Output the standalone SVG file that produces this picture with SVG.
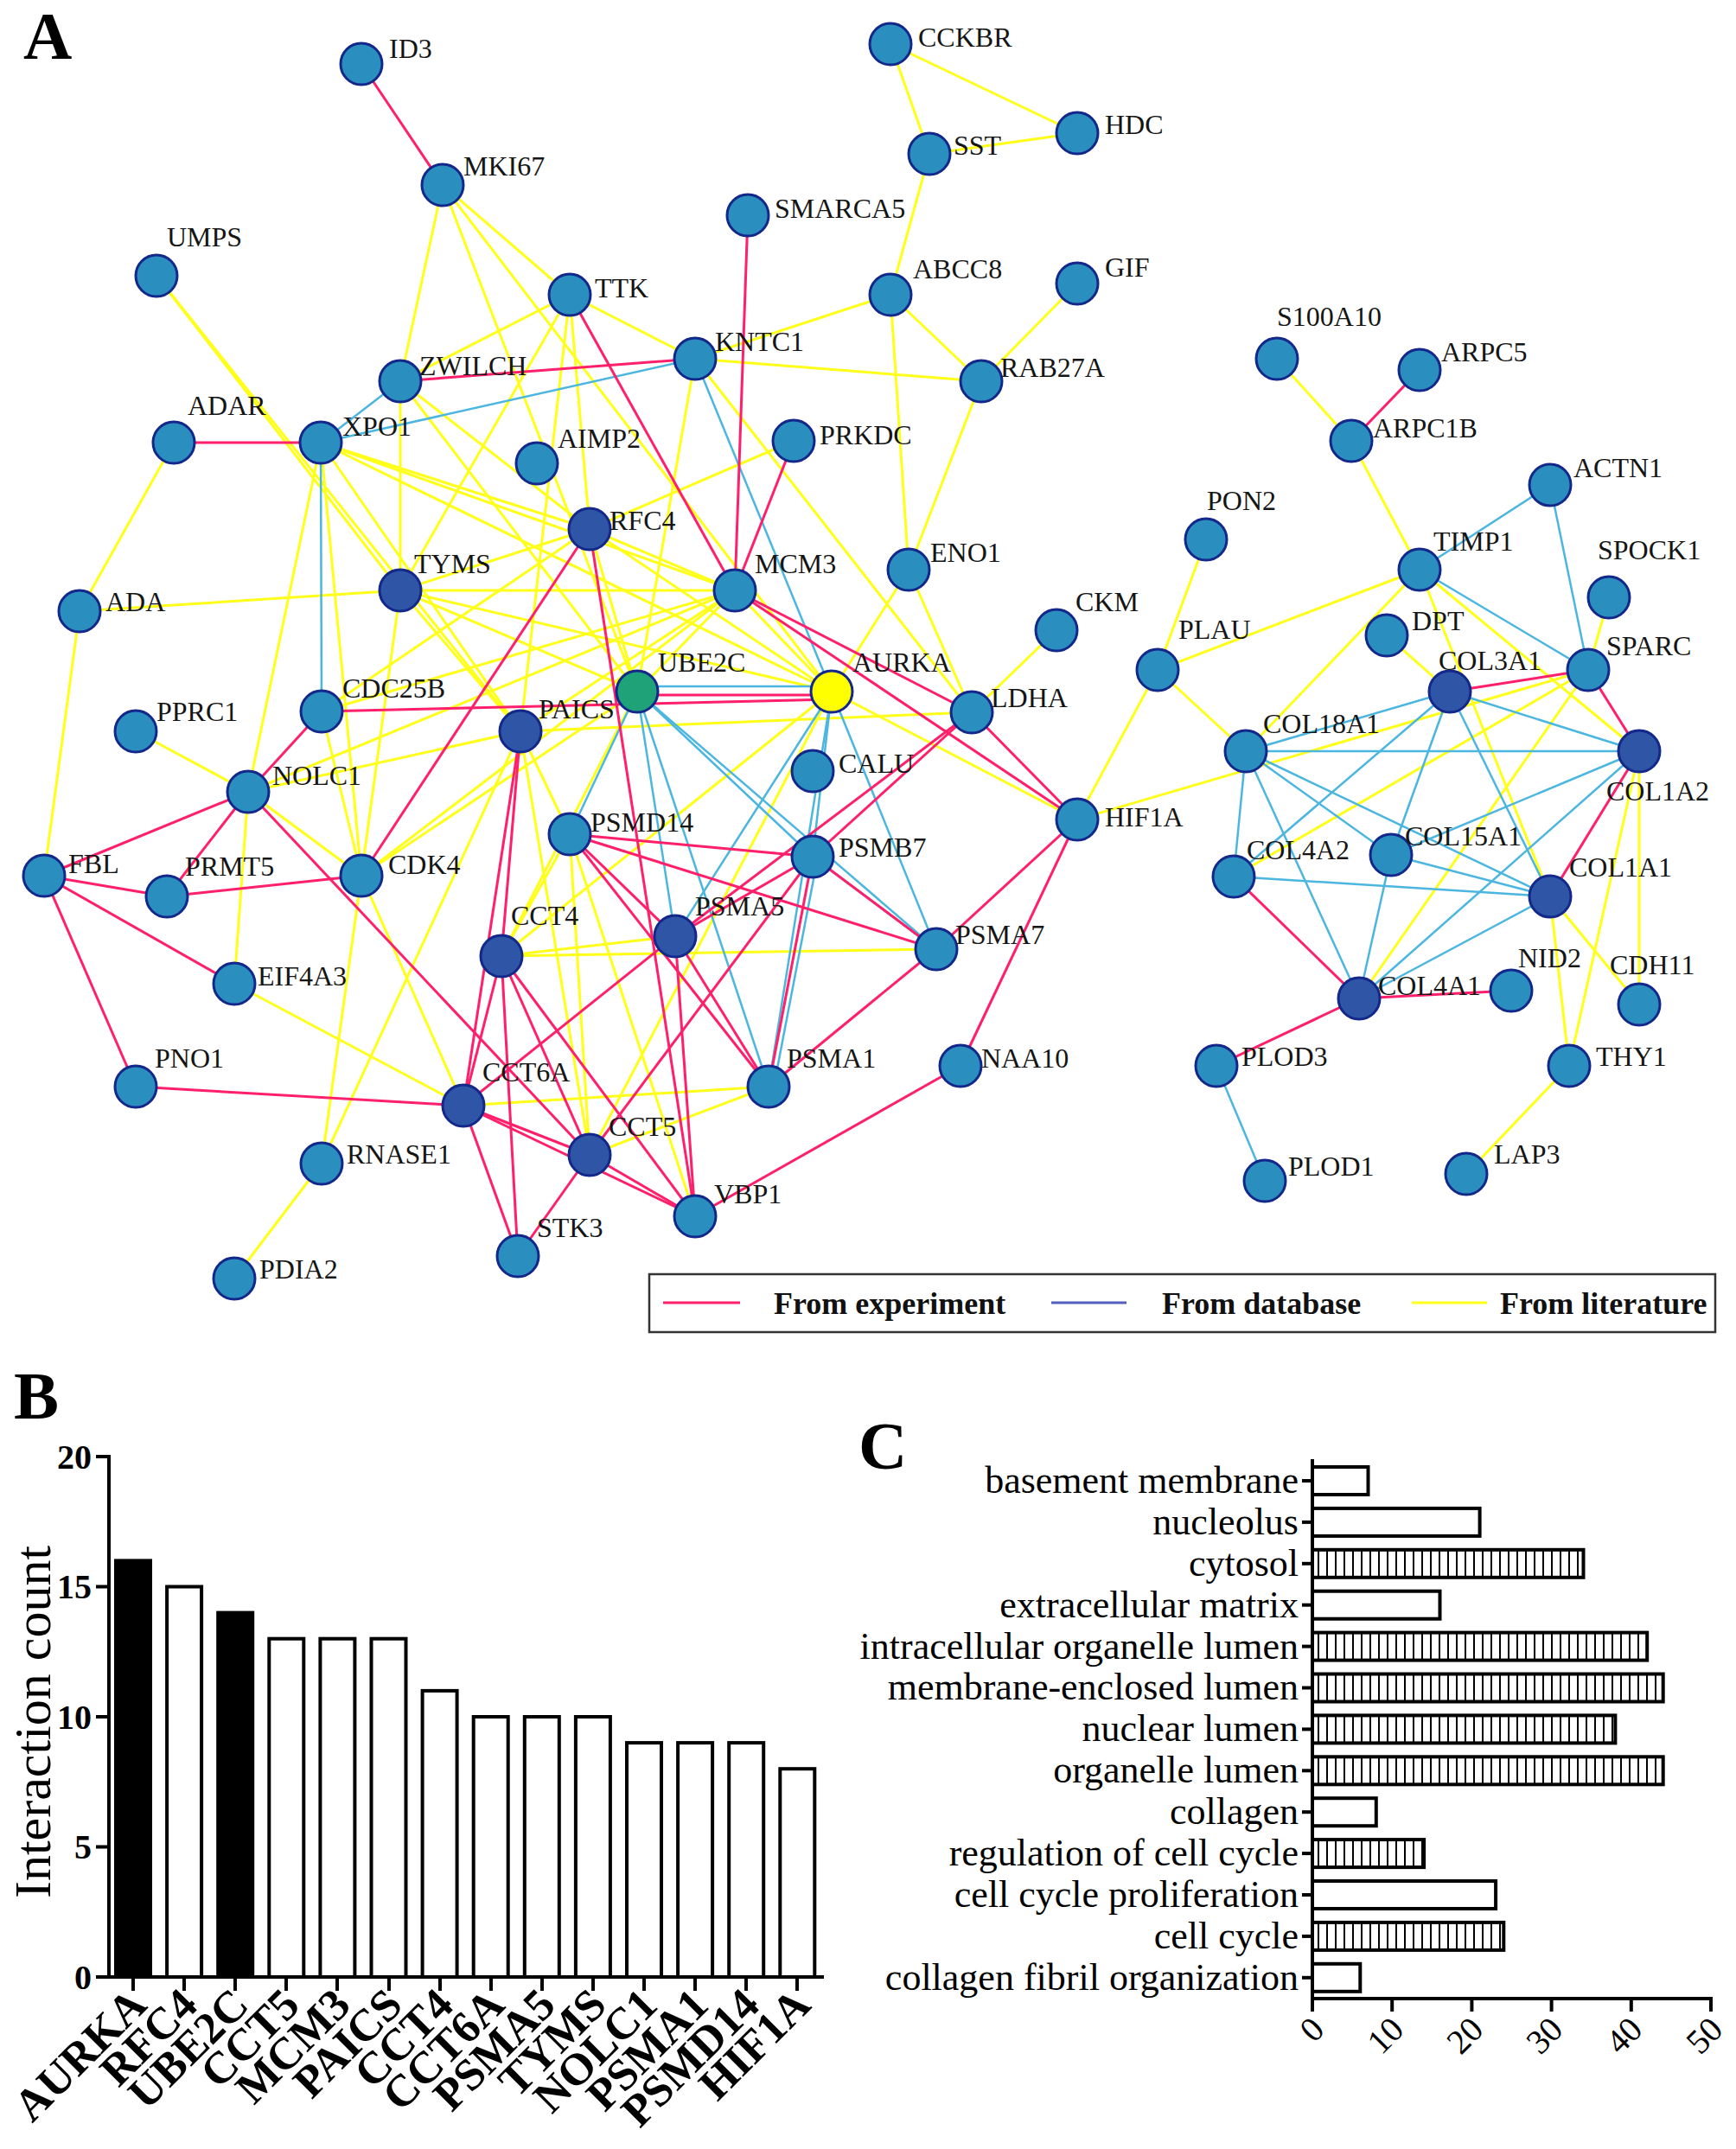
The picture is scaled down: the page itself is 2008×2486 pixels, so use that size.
<svg xmlns="http://www.w3.org/2000/svg" width="2008" height="2486" viewBox="0 0 2008 2486">
<style>
.ey{stroke:#FFFF1A;stroke-width:3;fill:none}
.ec{stroke:#4BB6DF;stroke-width:2.5;fill:none}
.ep{stroke:#FF1F6A;stroke-width:3;fill:none}
.n{fill:#2A8FBF;stroke:#13288A;stroke-width:3}
.nd{fill:#2F55A6;stroke:#13288A;stroke-width:3}
.lbl{font-family:"Liberation Serif",serif;font-size:32px;fill:#151515}
.big{font-family:"Liberation Serif",serif;font-size:78px;font-weight:bold;fill:#000}
.leg{font-family:"Liberation Serif",serif;font-size:36px;font-weight:bold;fill:#111}
.ax{stroke:#000;stroke-width:4;fill:none}
.bar{stroke:#000;stroke-width:4}
.tb{font-family:"Liberation Serif",serif;font-size:40px;font-weight:bold;fill:#000}
.xb{font-family:"Liberation Serif",serif;font-size:52px;font-weight:bold;fill:#000}
.cl{font-family:"Liberation Serif",serif;font-size:44px;fill:#000}
.ct{font-family:"Liberation Serif",serif;font-size:40px;fill:#000}
</style>
<defs>
<pattern id="hatch" patternUnits="userSpaceOnUse" width="10" height="10">
<rect width="10" height="10" fill="#fff"/>
<line x1="5" y1="0" x2="5" y2="10" stroke="#000" stroke-width="2"/>
</pattern>
</defs>
<rect width="2008" height="2486" fill="#fff"/>
<text class="big" x="27" y="68">A</text>

<g id="connectors">
<g id="literature">
<line class="ey" x1="1030" y1="51" x2="1075" y2="178"/>
<line class="ey" x1="1030" y1="51" x2="1246" y2="154"/>
<line class="ey" x1="1075" y1="178" x2="1246" y2="154"/>
<line class="ey" x1="1075" y1="178" x2="1030" y2="341"/>
<line class="ey" x1="1030" y1="341" x2="804" y2="415"/>
<line class="ey" x1="1030" y1="341" x2="1135" y2="441"/>
<line class="ey" x1="1030" y1="341" x2="1051" y2="659"/>
<line class="ey" x1="1246" y1="328" x2="1135" y2="441"/>
<line class="ey" x1="1135" y1="441" x2="804" y2="415"/>
<line class="ey" x1="1135" y1="441" x2="1051" y2="659"/>
<line class="ey" x1="659" y1="341" x2="804" y2="415"/>
<line class="ey" x1="804" y1="415" x2="1124" y2="824"/>
<line class="ey" x1="804" y1="415" x2="737" y2="800"/>
<line class="ey" x1="1051" y1="659" x2="962" y2="800"/>
<line class="ey" x1="1051" y1="659" x2="1124" y2="824"/>
<line class="ey" x1="1222" y1="729" x2="1124" y2="824"/>
<line class="ey" x1="512" y1="214" x2="463" y2="441"/>
<line class="ey" x1="512" y1="214" x2="659" y2="341"/>
<line class="ey" x1="512" y1="214" x2="737" y2="800"/>
<line class="ey" x1="512" y1="214" x2="962" y2="800"/>
<line class="ey" x1="181" y1="319" x2="463" y2="683"/>
<line class="ey" x1="181" y1="319" x2="602" y2="846"/>
<line class="ey" x1="659" y1="341" x2="463" y2="441"/>
<line class="ey" x1="659" y1="341" x2="463" y2="683"/>
<line class="ey" x1="659" y1="341" x2="682" y2="612"/>
<line class="ey" x1="659" y1="341" x2="602" y2="846"/>
<line class="ey" x1="463" y1="441" x2="682" y2="612"/>
<line class="ey" x1="463" y1="441" x2="463" y2="683"/>
<line class="ey" x1="463" y1="441" x2="737" y2="800"/>
<line class="ey" x1="371" y1="512" x2="682" y2="612"/>
<line class="ey" x1="371" y1="512" x2="850" y2="683"/>
<line class="ey" x1="371" y1="512" x2="962" y2="800"/>
<line class="ey" x1="371" y1="512" x2="602" y2="846"/>
<line class="ey" x1="371" y1="512" x2="287" y2="916"/>
<line class="ey" x1="371" y1="512" x2="418" y2="1013"/>
<line class="ey" x1="201" y1="512" x2="92" y2="707"/>
<line class="ey" x1="92" y1="707" x2="51" y2="1013"/>
<line class="ey" x1="92" y1="707" x2="463" y2="683"/>
<line class="ey" x1="463" y1="683" x2="682" y2="612"/>
<line class="ey" x1="463" y1="683" x2="850" y2="683"/>
<line class="ey" x1="463" y1="683" x2="737" y2="800"/>
<line class="ey" x1="463" y1="683" x2="962" y2="800"/>
<line class="ey" x1="463" y1="683" x2="602" y2="846"/>
<line class="ey" x1="463" y1="683" x2="418" y2="1013"/>
<line class="ey" x1="682" y1="612" x2="918" y2="510"/>
<line class="ey" x1="682" y1="612" x2="850" y2="683"/>
<line class="ey" x1="682" y1="612" x2="962" y2="800"/>
<line class="ey" x1="682" y1="612" x2="737" y2="800"/>
<line class="ey" x1="850" y1="683" x2="962" y2="800"/>
<line class="ey" x1="850" y1="683" x2="737" y2="800"/>
<line class="ey" x1="850" y1="683" x2="602" y2="846"/>
<line class="ey" x1="850" y1="683" x2="372" y2="823"/>
<line class="ey" x1="850" y1="683" x2="418" y2="1013"/>
<line class="ey" x1="850" y1="683" x2="287" y2="916"/>
<line class="ey" x1="602" y1="846" x2="1124" y2="824"/>
<line class="ey" x1="602" y1="846" x2="659" y2="965"/>
<line class="ey" x1="602" y1="846" x2="682" y2="1336"/>
<line class="ey" x1="602" y1="846" x2="287" y2="916"/>
<line class="ey" x1="602" y1="846" x2="372" y2="1346"/>
<line class="ey" x1="962" y1="800" x2="1246" y2="948"/>
<line class="ey" x1="962" y1="800" x2="580" y2="1106"/>
<line class="ey" x1="962" y1="800" x2="682" y2="1336"/>
<line class="ey" x1="372" y1="823" x2="418" y2="1013"/>
<line class="ey" x1="372" y1="823" x2="682" y2="612"/>
<line class="ey" x1="287" y1="916" x2="157" y2="846"/>
<line class="ey" x1="287" y1="916" x2="271" y2="1138"/>
<line class="ey" x1="287" y1="916" x2="418" y2="1013"/>
<line class="ey" x1="418" y1="1013" x2="372" y2="1346"/>
<line class="ey" x1="418" y1="1013" x2="536" y2="1279"/>
<line class="ey" x1="418" y1="1013" x2="737" y2="800"/>
<line class="ey" x1="271" y1="1138" x2="536" y2="1279"/>
<line class="ey" x1="372" y1="1346" x2="271" y2="1479"/>
<line class="ey" x1="580" y1="1106" x2="781" y2="1083"/>
<line class="ey" x1="580" y1="1106" x2="1083" y2="1098"/>
<line class="ey" x1="580" y1="1106" x2="737" y2="800"/>
<line class="ey" x1="536" y1="1279" x2="889" y2="1257"/>
<line class="ey" x1="682" y1="1336" x2="889" y2="1257"/>
<line class="ey" x1="659" y1="965" x2="682" y2="1336"/>
<line class="ey" x1="659" y1="965" x2="580" y2="1106"/>
<line class="ey" x1="659" y1="965" x2="804" y2="1407"/>
<line class="ey" x1="1246" y1="948" x2="1339" y2="775"/>
<line class="ey" x1="1246" y1="948" x2="1837" y2="775"/>
<line class="ey" x1="1477" y1="415" x2="1563" y2="510"/>
<line class="ey" x1="1563" y1="510" x2="1642" y2="659"/>
<line class="ey" x1="1395" y1="624" x2="1339" y2="775"/>
<line class="ey" x1="1861" y1="691" x2="1837" y2="775"/>
<line class="ey" x1="1642" y1="659" x2="1339" y2="775"/>
<line class="ey" x1="1642" y1="659" x2="1441" y2="869"/>
<line class="ey" x1="1642" y1="659" x2="1896" y2="869"/>
<line class="ey" x1="1642" y1="659" x2="1793" y2="1037"/>
<line class="ey" x1="1604" y1="735" x2="1677" y2="800"/>
<line class="ey" x1="1339" y1="775" x2="1441" y2="869"/>
<line class="ey" x1="1837" y1="775" x2="1427" y2="1014"/>
<line class="ey" x1="1837" y1="775" x2="1572" y2="1155"/>
<line class="ey" x1="1896" y1="869" x2="1815" y2="1233"/>
<line class="ey" x1="1896" y1="869" x2="1896" y2="1162"/>
<line class="ey" x1="1793" y1="1037" x2="1815" y2="1233"/>
<line class="ey" x1="1793" y1="1037" x2="1896" y2="1162"/>
<line class="ey" x1="1815" y1="1233" x2="1696" y2="1358"/>
</g>
<g id="database">
<line class="ec" x1="463" y1="441" x2="371" y2="512"/>
<line class="ec" x1="804" y1="415" x2="371" y2="512"/>
<line class="ec" x1="371" y1="512" x2="372" y2="823"/>
<line class="ec" x1="804" y1="415" x2="962" y2="800"/>
<line class="ec" x1="737" y1="794" x2="962" y2="794"/>
<line class="ec" x1="737" y1="800" x2="659" y2="965"/>
<line class="ec" x1="737" y1="800" x2="781" y2="1083"/>
<line class="ec" x1="737" y1="800" x2="889" y2="1257"/>
<line class="ec" x1="737" y1="800" x2="940" y2="991"/>
<line class="ec" x1="737" y1="800" x2="1083" y2="1098"/>
<line class="ec" x1="962" y1="800" x2="781" y2="1083"/>
<line class="ec" x1="962" y1="800" x2="889" y2="1257"/>
<line class="ec" x1="962" y1="800" x2="940" y2="991"/>
<line class="ec" x1="962" y1="800" x2="1083" y2="1098"/>
<line class="ec" x1="940" y1="991" x2="1083" y2="1098"/>
<line class="ec" x1="946" y1="991" x2="895" y2="1257"/>
<line class="ec" x1="1793" y1="561" x2="1642" y2="659"/>
<line class="ec" x1="1793" y1="561" x2="1837" y2="775"/>
<line class="ec" x1="1642" y1="659" x2="1837" y2="775"/>
<line class="ec" x1="1677" y1="800" x2="1441" y2="869"/>
<line class="ec" x1="1677" y1="800" x2="1896" y2="869"/>
<line class="ec" x1="1677" y1="800" x2="1609" y2="989"/>
<line class="ec" x1="1677" y1="800" x2="1427" y2="1014"/>
<line class="ec" x1="1677" y1="800" x2="1793" y2="1037"/>
<line class="ec" x1="1441" y1="869" x2="1896" y2="869"/>
<line class="ec" x1="1441" y1="869" x2="1609" y2="989"/>
<line class="ec" x1="1441" y1="869" x2="1427" y2="1014"/>
<line class="ec" x1="1441" y1="869" x2="1572" y2="1155"/>
<line class="ec" x1="1441" y1="869" x2="1793" y2="1037"/>
<line class="ec" x1="1896" y1="869" x2="1609" y2="989"/>
<line class="ec" x1="1896" y1="869" x2="1572" y2="1155"/>
<line class="ec" x1="1609" y1="989" x2="1572" y2="1155"/>
<line class="ec" x1="1609" y1="989" x2="1793" y2="1037"/>
<line class="ec" x1="1427" y1="1014" x2="1793" y2="1037"/>
<line class="ec" x1="1793" y1="1037" x2="1572" y2="1155"/>
<line class="ec" x1="1407" y1="1233" x2="1463" y2="1366"/>
</g>
<g id="experiment">
<line class="ep" x1="418" y1="74" x2="512" y2="214"/>
<line class="ep" x1="865" y1="249" x2="850" y2="683"/>
<line class="ep" x1="659" y1="341" x2="850" y2="683"/>
<line class="ep" x1="804" y1="415" x2="463" y2="441"/>
<line class="ep" x1="201" y1="512" x2="371" y2="512"/>
<line class="ep" x1="918" y1="510" x2="850" y2="683"/>
<line class="ep" x1="850" y1="683" x2="1246" y2="948"/>
<line class="ep" x1="850" y1="683" x2="1124" y2="824"/>
<line class="ep" x1="737" y1="804" x2="962" y2="804"/>
<line class="ep" x1="372" y1="823" x2="962" y2="809"/>
<line class="ep" x1="372" y1="823" x2="287" y2="916"/>
<line class="ep" x1="287" y1="916" x2="51" y2="1013"/>
<line class="ep" x1="287" y1="916" x2="193" y2="1037"/>
<line class="ep" x1="287" y1="916" x2="682" y2="1336"/>
<line class="ep" x1="51" y1="1013" x2="193" y2="1037"/>
<line class="ep" x1="51" y1="1013" x2="271" y2="1138"/>
<line class="ep" x1="51" y1="1013" x2="157" y2="1257"/>
<line class="ep" x1="193" y1="1037" x2="418" y2="1013"/>
<line class="ep" x1="682" y1="612" x2="418" y2="1013"/>
<line class="ep" x1="682" y1="612" x2="804" y2="1407"/>
<line class="ep" x1="602" y1="846" x2="580" y2="1106"/>
<line class="ep" x1="602" y1="846" x2="536" y2="1279"/>
<line class="ep" x1="1124" y1="824" x2="1246" y2="948"/>
<line class="ep" x1="1124" y1="824" x2="940" y2="991"/>
<line class="ep" x1="1124" y1="824" x2="781" y2="1083"/>
<line class="ep" x1="781" y1="1083" x2="536" y2="1279"/>
<line class="ep" x1="659" y1="965" x2="940" y2="991"/>
<line class="ep" x1="659" y1="965" x2="781" y2="1083"/>
<line class="ep" x1="659" y1="965" x2="889" y2="1257"/>
<line class="ep" x1="659" y1="965" x2="1083" y2="1098"/>
<line class="ep" x1="940" y1="991" x2="781" y2="1083"/>
<line class="ep" x1="940" y1="991" x2="889" y2="1257"/>
<line class="ep" x1="940" y1="991" x2="1083" y2="1098"/>
<line class="ep" x1="940" y1="991" x2="682" y2="1336"/>
<line class="ep" x1="781" y1="1083" x2="889" y2="1257"/>
<line class="ep" x1="781" y1="1083" x2="804" y2="1407"/>
<line class="ep" x1="1083" y1="1098" x2="889" y2="1257"/>
<line class="ep" x1="1083" y1="1098" x2="1246" y2="948"/>
<line class="ep" x1="1111" y1="1233" x2="1246" y2="948"/>
<line class="ep" x1="1111" y1="1233" x2="804" y2="1407"/>
<line class="ep" x1="580" y1="1106" x2="536" y2="1279"/>
<line class="ep" x1="580" y1="1106" x2="682" y2="1336"/>
<line class="ep" x1="580" y1="1106" x2="599" y2="1453"/>
<line class="ep" x1="580" y1="1106" x2="804" y2="1407"/>
<line class="ep" x1="536" y1="1279" x2="682" y2="1336"/>
<line class="ep" x1="536" y1="1279" x2="804" y2="1407"/>
<line class="ep" x1="536" y1="1279" x2="599" y2="1453"/>
<line class="ep" x1="536" y1="1279" x2="157" y2="1257"/>
<line class="ep" x1="682" y1="1336" x2="599" y2="1453"/>
<line class="ep" x1="682" y1="1336" x2="804" y2="1407"/>
<line class="ep" x1="1642" y1="428" x2="1563" y2="510"/>
<line class="ep" x1="1677" y1="800" x2="1837" y2="775"/>
<line class="ep" x1="1837" y1="775" x2="1896" y2="869"/>
<line class="ep" x1="1896" y1="869" x2="1793" y2="1037"/>
<line class="ep" x1="1427" y1="1014" x2="1572" y2="1155"/>
<line class="ep" x1="1572" y1="1155" x2="1748" y2="1146"/>
<line class="ep" x1="1572" y1="1155" x2="1407" y2="1233"/>
</g>
</g>

<g id="nodes">
<g id="node-ID3"><circle class="n" cx="418" cy="74" r="24"/><text class="lbl" x="450" y="67">ID3</text></g>
<g id="node-MKI67"><circle class="n" cx="512" cy="214" r="24"/><text class="lbl" x="536" y="203">MKI67</text></g>
<g id="node-UMPS"><circle class="n" cx="181" cy="319" r="24"/><text class="lbl" x="193" y="285">UMPS</text></g>
<g id="node-TTK"><circle class="n" cx="659" cy="341" r="24"/><text class="lbl" x="688" y="344">TTK</text></g>
<g id="node-SMARCA5"><circle class="n" cx="865" cy="249" r="24"/><text class="lbl" x="896" y="252">SMARCA5</text></g>
<g id="node-CCKBR"><circle class="n" cx="1030" cy="51" r="24"/><text class="lbl" x="1062" y="54">CCKBR</text></g>
<g id="node-SST"><circle class="n" cx="1075" cy="178" r="24"/><text class="lbl" x="1103" y="179">SST</text></g>
<g id="node-HDC"><circle class="n" cx="1246" cy="154" r="24"/><text class="lbl" x="1278" y="155">HDC</text></g>
<g id="node-ABCC8"><circle class="n" cx="1030" cy="341" r="24"/><text class="lbl" x="1056" y="322">ABCC8</text></g>
<g id="node-GIF"><circle class="n" cx="1246" cy="328" r="24"/><text class="lbl" x="1278" y="320">GIF</text></g>
<g id="node-KNTC1"><circle class="n" cx="804" cy="415" r="24"/><text class="lbl" x="827" y="406">KNTC1</text></g>
<g id="node-RAB27A"><circle class="n" cx="1135" cy="441" r="24"/><text class="lbl" x="1157" y="436">RAB27A</text></g>
<g id="node-ZWILCH"><circle class="n" cx="463" cy="441" r="24"/><text class="lbl" x="485" y="434">ZWILCH</text></g>
<g id="node-XPO1"><circle class="n" cx="371" cy="512" r="24"/><text class="lbl" x="396" y="504">XPO1</text></g>
<g id="node-ADAR"><circle class="n" cx="201" cy="512" r="24"/><text class="lbl" x="217" y="480">ADAR</text></g>
<g id="node-AIMP2"><circle class="n" cx="621" cy="536" r="24"/><text class="lbl" x="645" y="518">AIMP2</text></g>
<g id="node-PRKDC"><circle class="n" cx="918" cy="510" r="24"/><text class="lbl" x="948" y="514">PRKDC</text></g>
<g id="node-RFC4"><circle class="nd" cx="682" cy="612" r="24"/><text class="lbl" x="705" y="613">RFC4</text></g>
<g id="node-TYMS"><circle class="nd" cx="463" cy="683" r="24"/><text class="lbl" x="479" y="663">TYMS</text></g>
<g id="node-MCM3"><circle class="n" cx="850" cy="683" r="24"/><text class="lbl" x="873" y="663">MCM3</text></g>
<g id="node-ENO1"><circle class="n" cx="1051" cy="659" r="24"/><text class="lbl" x="1076" y="650">ENO1</text></g>
<g id="node-ADA"><circle class="n" cx="92" cy="707" r="24"/><text class="lbl" x="122" y="707">ADA</text></g>
<g id="node-CKM"><circle class="n" cx="1222" cy="729" r="24"/><text class="lbl" x="1244" y="707">CKM</text></g>
<g id="node-UBE2C"><circle cx="737" cy="800" r="24" fill="#1FA277" stroke="#13288A" stroke-width="3"/><text class="lbl" x="761" y="777">UBE2C</text></g>
<g id="node-AURKA"><circle cx="962" cy="800" r="24" fill="#FFFF00" stroke="#13288A" stroke-width="3"/><text class="lbl" x="986" y="777">AURKA</text></g>
<g id="node-LDHA"><circle class="n" cx="1124" cy="824" r="24"/><text class="lbl" x="1146" y="818">LDHA</text></g>
<g id="node-CDC25B"><circle class="n" cx="372" cy="823" r="24"/><text class="lbl" x="396" y="807">CDC25B</text></g>
<g id="node-PAICS"><circle class="nd" cx="602" cy="846" r="24"/><text class="lbl" x="623" y="831">PAICS</text></g>
<g id="node-PPRC1"><circle class="n" cx="157" cy="846" r="24"/><text class="lbl" x="181" y="834">PPRC1</text></g>
<g id="node-CALU"><circle class="n" cx="940" cy="892" r="24"/><text class="lbl" x="970" y="894">CALU</text></g>
<g id="node-NOLC1"><circle class="n" cx="287" cy="916" r="24"/><text class="lbl" x="315" y="908">NOLC1</text></g>
<g id="node-HIF1A"><circle class="n" cx="1246" cy="948" r="24"/><text class="lbl" x="1278" y="956">HIF1A</text></g>
<g id="node-PSMD14"><circle class="n" cx="659" cy="965" r="24"/><text class="lbl" x="683" y="962">PSMD14</text></g>
<g id="node-PSMB7"><circle class="n" cx="940" cy="991" r="24"/><text class="lbl" x="970" y="991">PSMB7</text></g>
<g id="node-FBL"><circle class="n" cx="51" cy="1013" r="24"/><text class="lbl" x="79" y="1010">FBL</text></g>
<g id="node-PRMT5"><circle class="n" cx="193" cy="1037" r="24"/><text class="lbl" x="214" y="1013">PRMT5</text></g>
<g id="node-CDK4"><circle class="n" cx="418" cy="1013" r="24"/><text class="lbl" x="449" y="1011">CDK4</text></g>
<g id="node-CCT4"><circle class="nd" cx="580" cy="1106" r="24"/><text class="lbl" x="591" y="1070">CCT4</text></g>
<g id="node-PSMA5"><circle class="nd" cx="781" cy="1083" r="24"/><text class="lbl" x="804" y="1059">PSMA5</text></g>
<g id="node-PSMA7"><circle class="n" cx="1083" cy="1098" r="24"/><text class="lbl" x="1105" y="1092">PSMA7</text></g>
<g id="node-EIF4A3"><circle class="n" cx="271" cy="1138" r="24"/><text class="lbl" x="298" y="1140">EIF4A3</text></g>
<g id="node-PNO1"><circle class="n" cx="157" cy="1257" r="24"/><text class="lbl" x="179" y="1235">PNO1</text></g>
<g id="node-CCT6A"><circle class="nd" cx="536" cy="1279" r="24"/><text class="lbl" x="558" y="1251">CCT6A</text></g>
<g id="node-PSMA1"><circle class="n" cx="889" cy="1257" r="24"/><text class="lbl" x="910" y="1235">PSMA1</text></g>
<g id="node-NAA10"><circle class="n" cx="1111" cy="1233" r="24"/><text class="lbl" x="1135" y="1235">NAA10</text></g>
<g id="node-CCT5"><circle class="nd" cx="682" cy="1336" r="24"/><text class="lbl" x="704" y="1314">CCT5</text></g>
<g id="node-RNASE1"><circle class="n" cx="372" cy="1346" r="24"/><text class="lbl" x="401" y="1346">RNASE1</text></g>
<g id="node-VBP1"><circle class="n" cx="804" cy="1407" r="24"/><text class="lbl" x="826" y="1392">VBP1</text></g>
<g id="node-STK3"><circle class="n" cx="599" cy="1453" r="24"/><text class="lbl" x="621" y="1431">STK3</text></g>
<g id="node-PDIA2"><circle class="n" cx="271" cy="1479" r="24"/><text class="lbl" x="300" y="1479">PDIA2</text></g>

<g id="node-S100A10"><circle class="n" cx="1477" cy="415" r="24"/><text class="lbl" x="1477" y="377">S100A10</text></g>
<g id="node-ARPC5"><circle class="n" cx="1642" cy="428" r="24"/><text class="lbl" x="1667" y="418">ARPC5</text></g>
<g id="node-ARPC1B"><circle class="n" cx="1563" cy="510" r="24"/><text class="lbl" x="1588" y="506">ARPC1B</text></g>
<g id="node-ACTN1"><circle class="n" cx="1793" cy="561" r="24"/><text class="lbl" x="1820" y="552">ACTN1</text></g>
<g id="node-PON2"><circle class="n" cx="1395" cy="624" r="24"/><text class="lbl" x="1396" y="590">PON2</text></g>
<g id="node-TIMP1"><circle class="n" cx="1642" cy="659" r="24"/><text class="lbl" x="1658" y="637">TIMP1</text></g>
<g id="node-SPOCK1"><circle class="n" cx="1861" cy="691" r="24"/><text class="lbl" x="1848" y="647">SPOCK1</text></g>
<g id="node-DPT"><circle class="n" cx="1604" cy="735" r="24"/><text class="lbl" x="1633" y="729">DPT</text></g>
<g id="node-PLAU"><circle class="n" cx="1339" cy="775" r="24"/><text class="lbl" x="1363" y="739">PLAU</text></g>
<g id="node-COL3A1"><circle class="nd" cx="1677" cy="800" r="24"/><text class="lbl" x="1664" y="775">COL3A1</text></g>
<g id="node-SPARC"><circle class="n" cx="1837" cy="775" r="24"/><text class="lbl" x="1858" y="758">SPARC</text></g>
<g id="node-COL18A1"><circle class="n" cx="1441" cy="869" r="24"/><text class="lbl" x="1461" y="848">COL18A1</text></g>
<g id="node-COL1A2"><circle class="nd" cx="1896" cy="869" r="24"/><text class="lbl" x="1858" y="926">COL1A2</text></g>
<g id="node-COL15A1"><circle class="n" cx="1609" cy="989" r="24"/><text class="lbl" x="1625" y="978">COL15A1</text></g>
<g id="node-COL4A2"><circle class="n" cx="1427" cy="1014" r="24"/><text class="lbl" x="1442" y="994">COL4A2</text></g>
<g id="node-COL1A1"><circle class="nd" cx="1793" cy="1037" r="24"/><text class="lbl" x="1815" y="1014">COL1A1</text></g>
<g id="node-NID2"><circle class="n" cx="1748" cy="1146" r="24"/><text class="lbl" x="1756" y="1119">NID2</text></g>
<g id="node-CDH11"><circle class="n" cx="1896" cy="1162" r="24"/><text class="lbl" x="1862" y="1127">CDH11</text></g>
<g id="node-COL4A1"><circle class="nd" cx="1572" cy="1155" r="24"/><text class="lbl" x="1594" y="1151">COL4A1</text></g>
<g id="node-PLOD3"><circle class="n" cx="1407" cy="1233" r="24"/><text class="lbl" x="1436" y="1233">PLOD3</text></g>
<g id="node-THY1"><circle class="n" cx="1815" cy="1233" r="24"/><text class="lbl" x="1846" y="1233">THY1</text></g>
<g id="node-PLOD1"><circle class="n" cx="1463" cy="1366" r="24"/><text class="lbl" x="1490" y="1360">PLOD1</text></g>
<g id="node-LAP3"><circle class="n" cx="1696" cy="1358" r="24"/><text class="lbl" x="1728" y="1346">LAP3</text></g>
</g>

<g id="legend">
<rect x="751" y="1474" width="1233" height="67" fill="#fff" stroke="#333" stroke-width="2.5"/>
<line x1="767" y1="1507" x2="856" y2="1507" stroke="#FF1F6A" stroke-width="3"/>
<text class="leg" x="895" y="1520">From experiment</text>
<line x1="1216" y1="1507" x2="1303" y2="1507" stroke="#5361BE" stroke-width="3"/>
<text class="leg" x="1344" y="1520">From database</text>
<line x1="1633" y1="1507" x2="1720" y2="1507" stroke="#FFFF1A" stroke-width="3"/>
<text class="leg" x="1735" y="1520">From literature</text>
</g>

<g id="panel-B">
<text class="big" x="16" y="1641">B</text>
<text class="cl" style="font-size:60px" transform="translate(58,1992) rotate(-90)" text-anchor="middle">Interaction count</text>
<line class="ax" x1="126" y1="1683" x2="126" y2="2289"/>
<line class="ax" x1="124" y1="2287" x2="953" y2="2287"/>
<g class="ax">
<line x1="111" y1="1685" x2="126" y2="1685"/>
<line x1="111" y1="1835.5" x2="126" y2="1835.5"/>
<line x1="111" y1="1986" x2="126" y2="1986"/>
<line x1="111" y1="2136.5" x2="126" y2="2136.5"/>
<line x1="111" y1="2287" x2="126" y2="2287"/>
</g>
<g class="tb" text-anchor="end">
<text x="106" y="1699">20</text>
<text x="106" y="1849">15</text>
<text x="106" y="2000">10</text>
<text x="106" y="2150">5</text>
<text x="106" y="2301">0</text>
</g>
<rect class="bar" x="134" y="1805.4" width="40" height="481.6" fill="#000"/>
<rect class="bar" x="193.1" y="1835.5" width="40" height="451.5" fill="#fff"/>
<rect class="bar" x="252.2" y="1865.6" width="40" height="421.4" fill="#000"/>
<rect class="bar" x="311.3" y="1895.7" width="40" height="391.3" fill="#fff"/>
<rect class="bar" x="370.4" y="1895.7" width="40" height="391.3" fill="#fff"/>
<rect class="bar" x="429.5" y="1895.7" width="40" height="391.3" fill="#fff"/>
<rect class="bar" x="488.6" y="1955.9" width="40" height="331.1" fill="#fff"/>
<rect class="bar" x="547.7" y="1986" width="40" height="301" fill="#fff"/>
<rect class="bar" x="606.8" y="1986" width="40" height="301" fill="#fff"/>
<rect class="bar" x="665.9" y="1986" width="40" height="301" fill="#fff"/>
<rect class="bar" x="725" y="2016.1" width="40" height="270.9" fill="#fff"/>
<rect class="bar" x="784.1" y="2016.1" width="40" height="270.9" fill="#fff"/>
<rect class="bar" x="843.2" y="2016.1" width="40" height="270.9" fill="#fff"/>
<rect class="bar" x="902.3" y="2046.2" width="40" height="240.8" fill="#fff"/>
<g class="ax">
<line x1="154" y1="2287" x2="154" y2="2303"/>
<line x1="213" y1="2287" x2="213" y2="2303"/>
<line x1="272" y1="2287" x2="272" y2="2303"/>
<line x1="331" y1="2287" x2="331" y2="2303"/>
<line x1="390" y1="2287" x2="390" y2="2303"/>
<line x1="450" y1="2287" x2="450" y2="2303"/>
<line x1="509" y1="2287" x2="509" y2="2303"/>
<line x1="568" y1="2287" x2="568" y2="2303"/>
<line x1="627" y1="2287" x2="627" y2="2303"/>
<line x1="686" y1="2287" x2="686" y2="2303"/>
<line x1="745" y1="2287" x2="745" y2="2303"/>
<line x1="804" y1="2287" x2="804" y2="2303"/>
<line x1="863" y1="2287" x2="863" y2="2303"/>
<line x1="922" y1="2287" x2="922" y2="2303"/>
</g>
<g class="xb" text-anchor="end">
<text transform="translate(172,2322) rotate(-45)">AURKA</text>
<text transform="translate(231,2322) rotate(-45)">RFC4</text>
<text transform="translate(290,2322) rotate(-45)">UBE2C</text>
<text transform="translate(349,2322) rotate(-45)">CCT5</text>
<text transform="translate(408,2322) rotate(-45)">MCM3</text>
<text transform="translate(468,2322) rotate(-45)">PAICS</text>
<text transform="translate(527,2322) rotate(-45)">CCT4</text>
<text transform="translate(586,2322) rotate(-45)">CCT6A</text>
<text transform="translate(645,2322) rotate(-45)">PSMA5</text>
<text transform="translate(704,2322) rotate(-45)">TYMS</text>
<text transform="translate(763,2322) rotate(-45)">NOLC1</text>
<text transform="translate(822,2322) rotate(-45)">PSMA1</text>
<text transform="translate(881,2322) rotate(-45)">PSMD14</text>
<text transform="translate(940,2322) rotate(-45)">HIF1A</text>
</g>
</g>

<g id="panel-C">
<text class="big" x="993" y="1699">C</text>
<line class="ax" x1="1518" y1="1688" x2="1518" y2="2314"/>
<line class="ax" x1="1516" y1="2312" x2="1981" y2="2312"/>
<g class="ax">
<line x1="1518" y1="2312" x2="1518" y2="2327"/>
<line x1="1610.2" y1="2312" x2="1610.2" y2="2327"/>
<line x1="1702.4" y1="2312" x2="1702.4" y2="2327"/>
<line x1="1794.6" y1="2312" x2="1794.6" y2="2327"/>
<line x1="1886.8" y1="2312" x2="1886.8" y2="2327"/>
<line x1="1979" y1="2312" x2="1979" y2="2327"/>
</g>
<g class="ct" text-anchor="end">
<text transform="translate(1534,2350) rotate(-45)">0</text>
<text transform="translate(1626,2350) rotate(-45)">10</text>
<text transform="translate(1718,2350) rotate(-45)">20</text>
<text transform="translate(1810,2350) rotate(-45)">30</text>
<text transform="translate(1902,2350) rotate(-45)">40</text>
<text transform="translate(1995,2350) rotate(-45)">50</text>
</g>
<g class="ax">
<line x1="1506" y1="1713" x2="1518" y2="1713"/>
<line x1="1506" y1="1760.9" x2="1518" y2="1760.9"/>
<line x1="1506" y1="1808.8" x2="1518" y2="1808.8"/>
<line x1="1506" y1="1856.7" x2="1518" y2="1856.7"/>
<line x1="1506" y1="1904.6" x2="1518" y2="1904.6"/>
<line x1="1506" y1="1952.5" x2="1518" y2="1952.5"/>
<line x1="1506" y1="2000.4" x2="1518" y2="2000.4"/>
<line x1="1506" y1="2048.3" x2="1518" y2="2048.3"/>
<line x1="1506" y1="2096.2" x2="1518" y2="2096.2"/>
<line x1="1506" y1="2144.1" x2="1518" y2="2144.1"/>
<line x1="1506" y1="2192" x2="1518" y2="2192"/>
<line x1="1506" y1="2239.9" x2="1518" y2="2239.9"/>
<line x1="1506" y1="2287.8" x2="1518" y2="2287.8"/>
</g>
<g class="cl" text-anchor="end">
<text x="1502" y="1727">basement membrane</text>
<text x="1502" y="1775">nucleolus</text>
<text x="1502" y="1823">cytosol</text>
<text x="1502" y="1871">extracellular matrix</text>
<text x="1502" y="1919">intracellular organelle lumen</text>
<text x="1502" y="1966">membrane-enclosed lumen</text>
<text x="1502" y="2014">nuclear lumen</text>
<text x="1502" y="2062">organelle lumen</text>
<text x="1502" y="2110">collagen</text>
<text x="1502" y="2158">regulation of cell cycle</text>
<text x="1502" y="2206">cell cycle proliferation</text>
<text x="1502" y="2254">cell cycle</text>
<text x="1502" y="2302">collagen fibril organization</text>
</g>
<rect class="bar" x="1518" y="1697" width="64.5" height="32" fill="#fff"/>
<rect class="bar" x="1518" y="1744.9" width="193.6" height="32" fill="#fff"/>
<rect class="bar" x="1518" y="1792.8" width="313.5" height="32" fill="url(#hatch)"/>
<rect class="bar" x="1518" y="1840.7" width="147.5" height="32" fill="#fff"/>
<rect class="bar" x="1518" y="1888.6" width="387.2" height="32" fill="url(#hatch)"/>
<rect class="bar" x="1518" y="1936.5" width="405.7" height="32" fill="url(#hatch)"/>
<rect class="bar" x="1518" y="1984.4" width="350.4" height="32" fill="url(#hatch)"/>
<rect class="bar" x="1518" y="2032.3" width="405.7" height="32" fill="url(#hatch)"/>
<rect class="bar" x="1518" y="2080.2" width="73.8" height="32" fill="#fff"/>
<rect class="bar" x="1518" y="2128.1" width="129.1" height="32" fill="url(#hatch)"/>
<rect class="bar" x="1518" y="2176" width="212.1" height="32" fill="#fff"/>
<rect class="bar" x="1518" y="2223.9" width="221.3" height="32" fill="url(#hatch)"/>
<rect class="bar" x="1518" y="2271.8" width="55.3" height="32" fill="#fff"/>
</g>
</svg>
